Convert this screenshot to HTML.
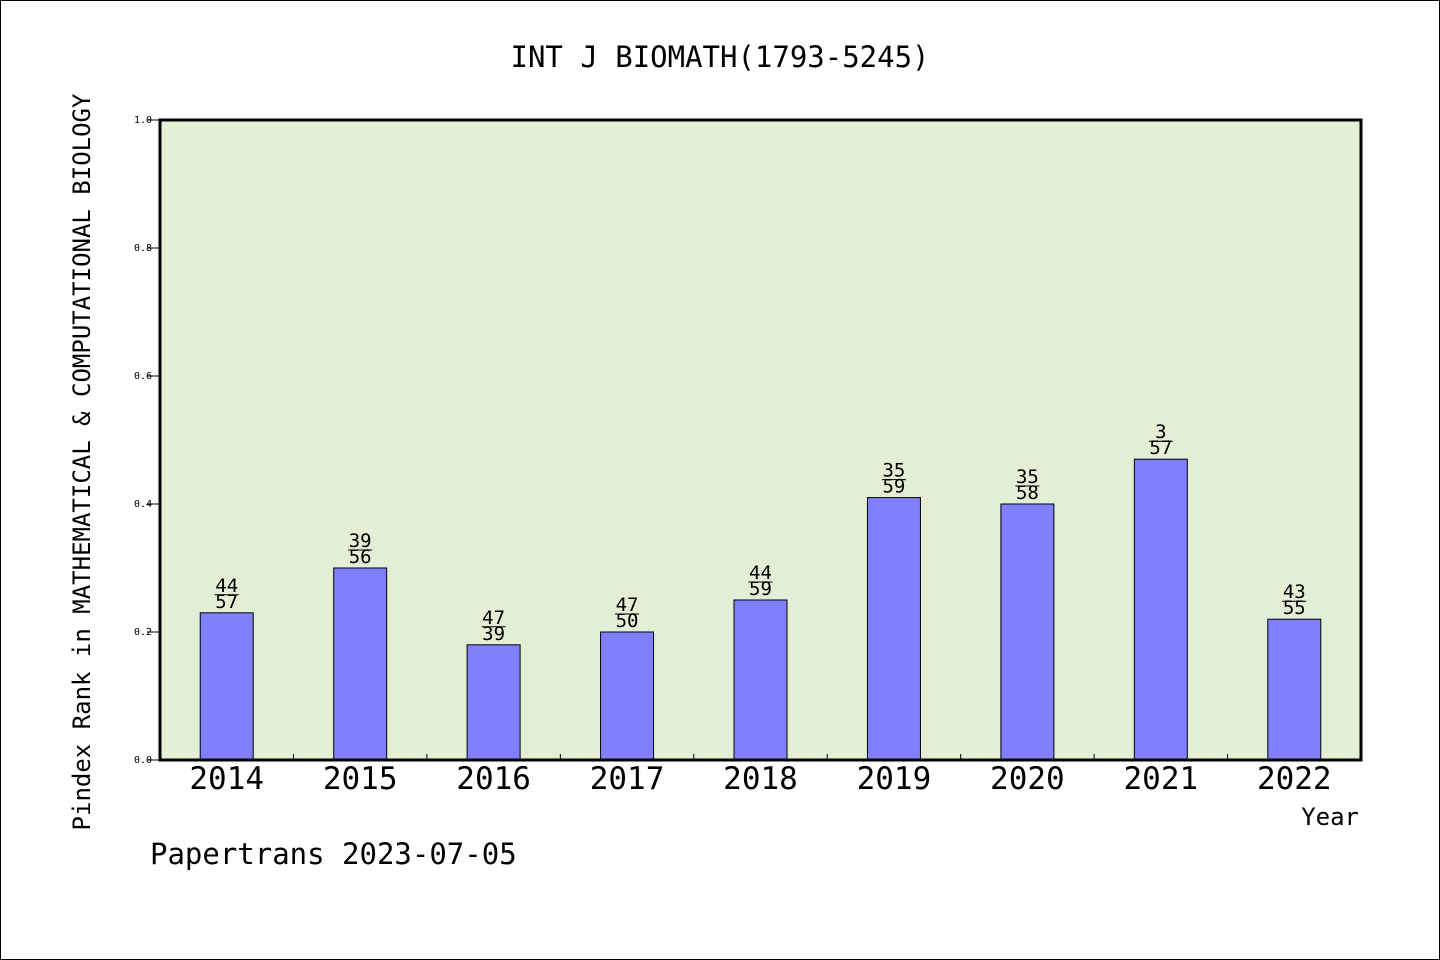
<!DOCTYPE html>
<html><head><meta charset="utf-8"><style>
body{margin:0;background:#fff}
svg{display:block;font-family:"DejaVu Sans Mono","Liberation Mono",monospace}
</style></head><body>
<svg width="1440" height="960" viewBox="0 0 1440 960">
<rect x="0.5" y="0.5" width="1439" height="959" fill="#fff" stroke="#000"/>
<text x="720" y="67" text-anchor="middle" font-size="29">INT J BIOMATH(1793-5245)</text>
<rect x="160" y="120" width="1201" height="640" fill="#e2efd5"/>
<g id="yaxis"></g><g id="bars"></g><g id="xaxis"></g>
<rect x="160" y="120" width="1201" height="640" fill="none" stroke="#000" stroke-width="3"/>
<text transform="translate(90,462) rotate(-90)" text-anchor="middle" font-size="24">Pindex Rank in MATHEMATICAL &amp; COMPUTATIONAL BIOLOGY</text>
<text x="1359" y="825" text-anchor="end" font-size="24">Year</text>
<text x="150" y="864" font-size="29">Papertrans 2023-07-05</text>
</svg>
<script>
const categories=["2014","2015","2016","2017","2018","2019","2020","2021","2022"];
const values=[0.23,0.30,0.18,0.20,0.25,0.41,0.40,0.47,0.22];
const rankTop=["44","39","47","47","44","35","35","3","43"];
const rankBottom=["57","56","39","50","59","59","58","57","55"];
const yTicks=["0.0","0.2","0.4","0.6","0.8","1.0"];
const NS="http://www.w3.org/2000/svg";
const L=160,R=1361,T=120,B=760;
const band=(R-L)/categories.length;
const y=v=>B-(v)*(B-T);
const xc=i=>L+band*(i+0.5);
function mk(tag,attrs,parent){const e=document.createElementNS(NS,tag);for(const k in attrs)e.setAttribute(k,attrs[k]);parent.appendChild(e);return e;}
const ya=document.getElementById('yaxis'),bg=document.getElementById('bars'),xa=document.getElementById('xaxis');
yTicks.forEach(t=>{const v=parseFloat(t);
 const ln=mk('line',{x1:147,x2:160,y1:y(v),y2:y(v),stroke:'#000'},ya);
 
 
 const tx=mk('text',{x:152,y:y(v)+3,'text-anchor':'end','font-size':10},ya);tx.textContent=t;
 
 
});
categories.forEach((c,i)=>{
 const w=53,cx=xc(i);
 const r=mk('rect',{x:cx-w/2,y:y(values[i]),width:w,height:B-y(values[i]),fill:'#8080ff',stroke:'#000','stroke-width':1},bg);
 
 
 const top=y(values[i]);
 const t1=mk('text',{x:cx,y:top-21,'text-anchor':'middle','font-size':19},bg);t1.textContent=rankTop[i];
 
 
 const fl=mk('line',{x1:cx-12,x2:cx+12,y1:top-18,y2:top-18,stroke:'#000','stroke-width':1},bg);
 
 
 const t2=mk('text',{x:cx,y:top-5,'text-anchor':'middle','font-size':19},bg);t2.textContent=rankBottom[i];
 
 
 const xl=mk('text',{x:cx,y:789,'text-anchor':'middle','font-size':31},xa);xl.textContent=c;
 
 
 if(i>0){const tk=mk('line',{x1:L+band*i,x2:L+band*i,y1:B,y2:B-6,stroke:'#000'},xa);
 
 }
});
</script>
</body></html>
